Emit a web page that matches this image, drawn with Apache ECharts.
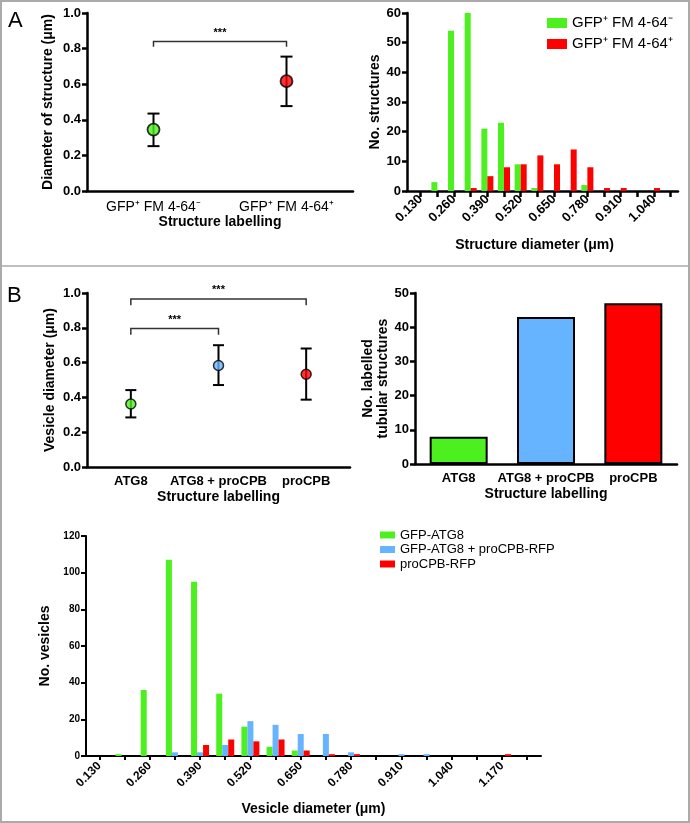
<!DOCTYPE html>
<html><head><meta charset="utf-8">
<script src="https://cdn.jsdelivr.net/npm/echarts@6/dist/echarts.min.js"></script>
<style>html,body{margin:0;padding:0;background:#fff}#c{width:690px;height:823px}</style>
</head><body><div id="c"></div>
<script>
// ---- Panel A (left): mean diameter with error bars ----
const aCategories = ['GFP⁺ FM 4-64⁻', 'GFP⁺ FM 4-64⁺'];
const aMean = [0.345, 0.617];
const aLow = [0.252, 0.477];
const aHigh = [0.435, 0.755];
const aBrackets = [[0, 1, 0.84, 0.81]];
// ---- Panel A (right): histogram ----
const aBins = [0.130, 0.195, 0.260, 0.325, 0.390, 0.455, 0.520, 0.585, 0.650, 0.715, 0.780, 0.845, 0.910, 0.975, 1.040, 1.105];
const aBinLabels = [0.130, 0.260, 0.390, 0.520, 0.650, 0.780, 0.910, 1.040];
const aCountNeg = [0, 3, 54, 60, 21, 23, 9, 1, 0, 0, 2, 0, 0, 0, 0, 0];
const aCountPos = [0, 0, 0, 1, 5, 8, 9, 12, 9, 14, 8, 1, 1, 0, 1, 0];
const aSeriesNames = ['GFP⁺ FM 4-64⁻', 'GFP⁺ FM 4-64⁺'];
// ---- Panel B (left): vesicle diameter ----
const bCategories = ['ATG8', 'ATG8 + proCPB', 'proCPB'];
const bMean = [0.362, 0.583, 0.533];
const bLow = [0.285, 0.471, 0.387];
const bHigh = [0.442, 0.700, 0.681];
const bBrackets = [[0, 2, 0.965, 0.93], [0, 1, 0.796, 0.76]];
// ---- Panel B (right): tubular structures ----
const bTubular = [8, 43, 47];
// ---- Panel B (bottom): vesicle histogram ----
const cBins = [0.130, 0.195, 0.260, 0.325, 0.390, 0.455, 0.520, 0.585, 0.650, 0.715, 0.780, 0.845, 0.910, 0.975, 1.040, 1.105, 1.170, 1.235];
const cBinLabels = [0.130, 0.260, 0.390, 0.520, 0.650, 0.780, 0.910, 1.040, 1.170];
const cAtg8 = [0, 1, 36, 107, 95, 34, 16, 5, 3, 0, 0, 0, 0, 0, 0, 0, 0, 0];
const cBoth = [0, 0, 0, 2, 2, 6, 19, 17, 12, 12, 2, 0, 1, 1, 0, 0, 0, 0];
const cProCPB = [0, 0, 0, 0, 6, 9, 8, 9, 3, 1, 1, 0, 0, 0, 0, 0, 1, 0];
const cSeriesNames = ['GFP-ATG8', 'GFP-ATG8 + proCPB-RFP', 'proCPB-RFP'];

const FONT = '"Liberation Sans", Arial, Helvetica, sans-serif';
const GREEN = '#4cf01e', RED = '#ff0000', BLUE = '#66b3ff';

const chart = echarts.init(document.getElementById('c'), null, {renderer: 'canvas'});

function nameStyle(size) {
  return {fontFamily: FONT, fontWeight: 'bold', fontSize: size || 14, color: '#000', lineHeight: 15};
}
function yAx(gridIndex, max, interval, name, nameGap, labelSize, fmt, lw) {
  return {
    type: 'value', gridIndex, min: 0, max, interval, name, nameLocation: 'middle', nameGap,
    nameTextStyle: nameStyle(14),
    axisLine: {show: true, onZero: false, lineStyle: {color: '#000', width: lw}},
    axisTick: {show: true, length: 5, lineStyle: {color: '#000', width: lw}},
    axisLabel: {fontFamily: FONT, fontWeight: 'bold', fontSize: labelSize, color: '#000', margin: 6, formatter: fmt},
    splitLine: {show: false}
  };
}
function catAx(gridIndex, data, labelStyle, name, nameGap) {
  return {
    type: 'category', gridIndex, data, boundaryGap: true, name, nameLocation: 'middle', nameGap,
    nameTextStyle: nameStyle(14),
    axisLine: {onZero: false, lineStyle: {color: '#000', width: 2.5}},
    axisTick: {alignWithLabel: true, length: 6, lineStyle: {color: '#000', width: 2.5}},
    axisLabel: Object.assign({fontFamily: FONT, color: '#000', interval: 0}, labelStyle),
    splitLine: {show: false}
  };
}
function binAx(gridIndex, min, max, ticks, labels, labelSize, name, nameGap, lw, tickLen, margin, namePad) {
  return {
    type: 'value', gridIndex, min, max, name, nameLocation: 'middle', nameGap,
    nameTextStyle: Object.assign(nameStyle(14), namePad ? {padding: namePad} : {}),
    axisLine: {onZero: false, lineStyle: {color: '#000', width: lw}},
    axisTick: {show: true, customValues: ticks, length: tickLen, lineStyle: {color: '#000', width: lw}},
    axisLabel: {customValues: labels, rotate: 45, fontFamily: FONT, fontWeight: 'bold', fontSize: labelSize, color: '#000', margin,
      formatter: v => Number(v).toFixed(3)},
    splitLine: {show: false}
  };
}

function errorBarRender(cap) {
  return function (params, api) {
    const x = api.value(0);
    const lo = api.coord([x, api.value(1)]);
    const hi = api.coord([x, api.value(2)]);
    const st = {stroke: '#000', lineWidth: 2};
    return {type: 'group', children: [
      {type: 'line', shape: {x1: lo[0], y1: lo[1], x2: hi[0], y2: hi[1]}, style: st},
      {type: 'line', shape: {x1: lo[0] - cap, y1: lo[1], x2: lo[0] + cap, y2: lo[1]}, style: st},
      {type: 'line', shape: {x1: hi[0] - cap, y1: hi[1], x2: hi[0] + cap, y2: hi[1]}, style: st}
    ]};
  };
}
function bracketRender(params, api) {
  const p1 = api.coord([api.value(0), api.value(3)]);
  const p2 = api.coord([api.value(0), api.value(2)]);
  const p3 = api.coord([api.value(1), api.value(2)]);
  const p4 = api.coord([api.value(1), api.value(3)]);
  return {type: 'group', children: [
    {type: 'polyline', shape: {points: [p1, p2, p3, p4]}, style: {stroke: '#333', lineWidth: 1.5, fill: null}},
    {type: 'text', x: (p2[0] + p3[0]) / 2, y: p2[1] - 9,
      style: {text: '***', align: 'center', verticalAlign: 'middle', font: 'bold 11px ' + FONT, fill: '#000'}}
  ]};
}

const aColors = [GREEN, RED];
const bColors = [GREEN, BLUE, RED];

const option = {
  animation: false,
  backgroundColor: '#fff',
  grid: [
    {left: 87, top: 13, width: 266, height: 178},
    {left: 407, top: 13, width: 271, height: 178},
    {left: 87, top: 293, width: 263, height: 174},
    {left: 415, top: 293, width: 262, height: 171},
    {left: 86, top: 536, width: 455, height: 220}
  ],
  xAxis: [
    catAx(0, aCategories, {fontSize: 14, margin: 9}, 'Structure labelling', 24),
    binAx(1, 0.0766, 1.1335, aBins, aBinLabels, 13, 'Structure diameter (μm)', 47, 2.5, 6, 6, [0, 16, 0, 0]),
    catAx(2, bCategories, {fontSize: 13, fontWeight: 'bold', margin: 8}, 'Structure labelling', 23),
    catAx(3, bCategories, {fontSize: 13, fontWeight: 'bold', margin: 8}, 'Structure labelling', 23),
    binAx(4, 0.0954, 1.2706, cBins, cBinLabels, 12, 'Vesicle diameter (μm)', 46, 2, 4, 8)
  ],
  yAxis: [
    yAx(0, 1, 0.2, 'Diameter of structure (μm)', 31, 13, v => v.toFixed(1), 2.5),
    yAx(1, 60, 10, 'No. structures', 22, 13, null, 2.5),
    yAx(2, 1, 0.2, 'Vesicle diameter (μm)', 29, 13, v => v.toFixed(1), 2.5),
    yAx(3, 50, 10, 'No. labelled\ntubular structures', 23, 13, null, 2.5),
    yAx(4, 120, 20, 'No. vesicles', 26, 10, null, 2)
  ],
  legend: [
    {data: aSeriesNames, orient: 'vertical', left: 542, top: 10, itemWidth: 20, itemHeight: 10, itemGap: 5, icon: 'rect',
      textStyle: {fontFamily: FONT, fontSize: 15, color: '#000', lineHeight: 16}},
    {data: cSeriesNames, orient: 'vertical', left: 375, top: 523, itemWidth: 15, itemHeight: 7, itemGap: 0.5, icon: 'rect',
      textStyle: {fontFamily: FONT, fontSize: 13, color: '#000', lineHeight: 14}}
  ],
  series: [
    {type: 'custom', name: 'errA', xAxisIndex: 0, yAxisIndex: 0, renderItem: errorBarRender(6), encode: {x: 0, y: [1, 2]},
      data: aCategories.map((c, i) => [i, aLow[i], aHigh[i]]), z: 3},
    {type: 'scatter', name: 'meanA', xAxisIndex: 0, yAxisIndex: 0, symbolSize: 12, z: 4,
      data: aCategories.map((c, i) => ({value: [i, aMean[i]], itemStyle: {color: aColors[i], borderColor: '#000', borderWidth: 1.8}}))},
    {type: 'custom', name: 'brA', xAxisIndex: 0, yAxisIndex: 0, renderItem: bracketRender, encode: {x: [0, 1], y: [2, 3]}, data: aBrackets},
    {type: 'bar', name: aSeriesNames[0], xAxisIndex: 1, yAxisIndex: 1, barWidth: 6, barGap: '0%', itemStyle: {color: GREEN},
      data: aBins.map((b, i) => [b, aCountNeg[i]])},
    {type: 'bar', name: aSeriesNames[1], xAxisIndex: 1, yAxisIndex: 1, barWidth: 6, barGap: '0%', itemStyle: {color: RED},
      data: aBins.map((b, i) => [b, aCountPos[i]])},
    {type: 'custom', name: 'errB', xAxisIndex: 2, yAxisIndex: 2, renderItem: errorBarRender(5.5), encode: {x: 0, y: [1, 2]},
      data: bCategories.map((c, i) => [i, bLow[i], bHigh[i]]), z: 3},
    {type: 'scatter', name: 'meanB', xAxisIndex: 2, yAxisIndex: 2, symbolSize: 10, z: 4,
      data: bCategories.map((c, i) => ({value: [i, bMean[i]], itemStyle: {color: bColors[i], borderColor: '#000', borderWidth: 1.5}}))},
    {type: 'custom', name: 'brB', xAxisIndex: 2, yAxisIndex: 2, renderItem: bracketRender, encode: {x: [0, 1], y: [2, 3]}, data: bBrackets},
    {type: 'bar', name: 'tubular', xAxisIndex: 3, yAxisIndex: 3, barWidth: 58,
      data: bTubular.map((v, i) => ({value: v, itemStyle: {color: bColors[i], borderColor: '#000', borderWidth: 2}}))},
    {type: 'bar', name: cSeriesNames[0], xAxisIndex: 4, yAxisIndex: 4, barWidth: 6, barGap: '0%', itemStyle: {color: GREEN},
      data: cBins.map((b, i) => [b, cAtg8[i]])},
    {type: 'bar', name: cSeriesNames[1], xAxisIndex: 4, yAxisIndex: 4, barWidth: 6, barGap: '0%', itemStyle: {color: BLUE},
      data: cBins.map((b, i) => [b, cBoth[i]])},
    {type: 'bar', name: cSeriesNames[2], xAxisIndex: 4, yAxisIndex: 4, barWidth: 6, barGap: '0%', itemStyle: {color: RED},
      data: cBins.map((b, i) => [b, cProCPB[i]])}
  ],
  graphic: [
    {type: 'rect', shape: {x: 1, y: 1, width: 688, height: 821}, style: {fill: null, stroke: '#aaaaaa', lineWidth: 2}, silent: true},
    {type: 'line', shape: {x1: 0, y1: 266, x2: 690, y2: 266}, style: {stroke: '#aaaaaa', lineWidth: 1.5}, silent: true},
    {type: 'text', left: 8, top: 10, style: {text: 'A', font: '22px ' + FONT, fill: '#000'}},
    {type: 'text', left: 7, top: 285, style: {text: 'B', font: '22px ' + FONT, fill: '#000'}}
  ]
};
chart.setOption(option);
</script>
</body></html>
